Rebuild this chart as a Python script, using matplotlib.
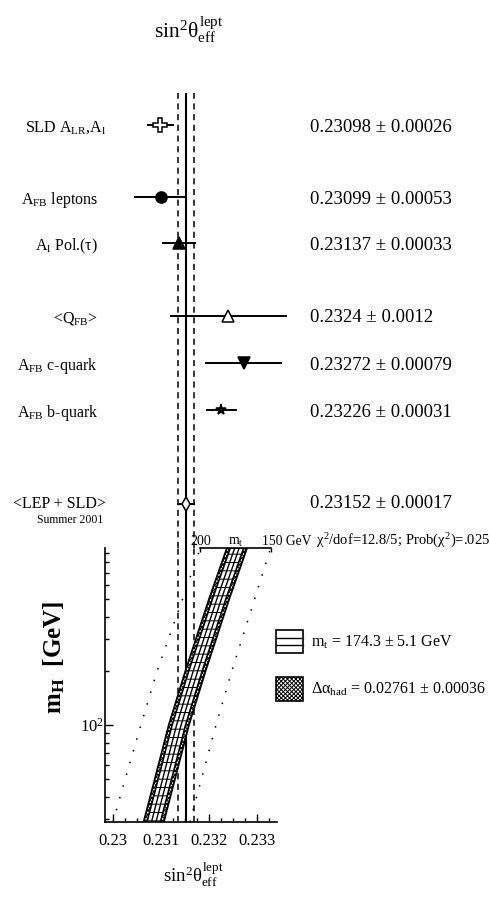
import numpy as np
import matplotlib
matplotlib.use("Agg")
import matplotlib.pyplot as plt
from matplotlib.patches import Rectangle
from matplotlib.ticker import FixedLocator, MultipleLocator, LogLocator, NullFormatter

plt.rcParams["font.family"] = ["Liberation Serif", "DejaVu Serif"]
plt.rcParams["mathtext.fontset"] = "custom"
plt.rcParams["mathtext.rm"] = "Liberation Serif"
plt.rcParams["mathtext.it"] = "Liberation Serif"
plt.rcParams["mathtext.bf"] = "Liberation Serif:bold"
plt.rcParams["hatch.linewidth"] = 0.7

# --- measurements of sin^2 theta_eff^lept ---
names = [r"SLD A$_{\rm LR}$,A$_{\rm l}$",
         r"A$_{\rm FB}$ leptons",
         r"A$_{\rm l}$ Pol.($\tau$)",
         r"<Q$_{\rm FB}$>",
         r"A$_{\rm FB}$ c-quark",
         r"A$_{\rm FB}$ b-quark",
         r"<LEP + SLD>"]
values = [0.23098, 0.23099, 0.23137, 0.2324, 0.23272, 0.23226, 0.23152]
errors = [0.00026, 0.00053, 0.00033, 0.0012, 0.00079, 0.00031, 0.00017]
value_text = ["0.23098 ± 0.00026", "0.23099 ± 0.00053", "0.23137 ± 0.00033",
              "0.2324 ± 0.0012", "0.23272 ± 0.00079", "0.23226 ± 0.00031",
              "0.23152 ± 0.00017"]
chi2_text = r"$\chi^{2}$/dof=12.8/5; Prob($\chi^{2}$)=.025"

# --- SM prediction vs m_H ---
mh_pts = [29, 50, 100, 200, 500, 962]
sin_band = [0.230848, 0.231079, 0.231371, 0.231719, 0.232210, 0.232583]
sin_mt200 = [0.230000, 0.230252, 0.230581, 0.230919, 0.231448, 0.231819]
sin_mt150 = [0.231602, 0.231840, 0.232146, 0.232475, 0.232950, 0.233283]
band_out = 0.00021   # half width incl. delta alpha_had
band_in = 0.00014    # half width from m_t

mt_text = r"m$_{\rm t}$ = 174.3 ± 5.1 GeV"
alpha_text = r"$\Delta\alpha_{\rm had}$ = 0.02761 ± 0.00036"

xticks = [0.230, 0.231, 0.232, 0.233]
xtick_labels = ["0.23", "0.231", "0.232", "0.233"]

# layout in pixels
W, H = 490, 897
def fx(px):
    return px / W
def fy(py):
    return 1 - py / H

row_y = [125, 196.5, 243, 315.5, 362.5, 410, 504]
text_dy = [7, 7, 7, 7, 7, 7, 4]
markers = ["P", "o", "^", "^", "v", "*", "d"]
mfaces = ["white", "black", "black", "white", "black", "black", "white"]
msizes = [9.5, 8, 8, 8.5, 8, 8, 7]

xlim = (0.229833, 0.233417)

fig = plt.figure(figsize=(4.9, 8.97), dpi=100)

ax = fig.add_axes([fx(105), fy(822), (277 - 105) / W, (822 - 548) / H])
axu = fig.add_axes([fx(105), fy(548), (277 - 105) / W, (548 - 93) / H])
axu.set_xlim(xlim)
axu.set_ylim(548, 93)
axu.axis("off")

avg, avg_err = values[-1], errors[-1]

# average and its error in both panels
for a in (axu, ax):
    a.axvline(avg, color="black", lw=1.5, zorder=2)
    for s in (-1, 1):
        a.axvline(avg + s * avg_err, color="black", lw=1.1, ls=(0, (4, 3)), zorder=2)

# measurements
for i in range(len(values)):
    v, e, y = values[i], errors[i], row_y[i]
    axu.plot([v - e, v + e], [y, y], color="black", lw=1.4, clip_on=False, zorder=3)
    axu.plot(v, y, marker=markers[i], ms=msizes[i], mfc=mfaces[i], mec="black",
             mew=1.1, clip_on=False, zorder=4)
    xr = 98 if 0 < i < 6 else 106
    fig.text(fx(xr), fy(y + text_dy[i]), names[i], ha="right", va="baseline", fontsize=11.5)
    fig.text(fx(310), fy(y + text_dy[i]), value_text[i], ha="left", va="baseline",
             fontsize=13.5)

fig.text(fx(103), fy(523), "Summer 2001", ha="right", va="baseline", fontsize=8.5)
fig.text(fx(316), fy(545), chi2_text, ha="left", va="baseline", fontsize=10.5)

# lower panel
ax.set_yscale("log")
ax.set_xlim(xlim)
ax.set_ylim(mh_pts[0], mh_pts[-1])

mh = np.array(mh_pts)
c = np.array(sin_band)
ax.fill_betweenx(mh, c - band_out, c + band_out, facecolor="white", edgecolor="black",
                 hatch="xxxxxxxx", lw=1.3, zorder=3)
ax.fill_betweenx(mh, c - band_in, c + band_in, facecolor="white", edgecolor="black",
                 hatch="--", lw=1.2, zorder=4)
for s in (-1, 1):
    ax.plot(c + s * band_in / 3, mh, color="black", lw=1.0, zorder=5)

ax.plot(sin_mt200, mh, color="black", lw=1.1, ls=(0, (1, 7)), zorder=2)
ax.plot(sin_mt150, mh, color="black", lw=1.1, ls=(0, (1, 7)), zorder=2)

# m_t scale along the top
ax.plot([sin_mt200[-1], sin_mt150[-1]], [mh_pts[-1], mh_pts[-1]], color="black",
        lw=1.2, clip_on=False, zorder=6)
ax.vlines([sin_mt200[-1], sin_mt150[-1]], 1 - 4 / 274, 1, color="black", lw=1.0,
          transform=ax.get_xaxis_transform(), clip_on=False)
fig.text(fx(190), fy(545), "200", ha="left", va="baseline", fontsize=10)
fig.text(fx(236), fy(545), r"m$_{\rm t}$", ha="center", va="baseline", fontsize=10)
fig.text(fx(262), fy(545), "150 GeV", ha="left", va="baseline", fontsize=9.8)

for sp in ("top", "right"):
    ax.spines[sp].set_visible(False)
for sp in ("left", "bottom"):
    ax.spines[sp].set_linewidth(1.2)

ax.xaxis.set_major_locator(FixedLocator(xticks))
ax.set_xticklabels(xtick_labels)
ax.xaxis.set_minor_locator(MultipleLocator(0.00025))
ax.yaxis.set_major_locator(LogLocator(base=10))
ax.yaxis.set_minor_locator(LogLocator(base=10, subs=np.arange(2, 10)))
ax.yaxis.set_minor_formatter(NullFormatter())
ax.tick_params(which="both", direction="in", top=False, right=False, width=1.0)
ax.tick_params(which="major", length=5.5, labelsize=12)
ax.tick_params(which="minor", length=2.8)
ax.tick_params(axis="x", which="major", pad=8)
ax.tick_params(axis="y", which="major", pad=1)

fig.text(fx(54), fy(657), r"$\mathbf{m_{H}}$  [GeV]", rotation=90, ha="center",
         va="center", fontsize=18, fontweight="bold")
fig.text(fx(193), fy(875), r"sin$^{2}\theta^{\rm lept}_{\rm eff}$", ha="center",
         va="center", fontsize=13.5)
fig.text(fx(189), fy(30), r"sin$^{2}\theta^{\rm lept}_{\rm eff}$", ha="center",
         va="center", fontsize=15.5)

# legend
box1 = Rectangle((fx(276), fy(653)), 27 / W, 23 / H, transform=fig.transFigure,
                 facecolor="white", edgecolor="black", lw=1.2)
fig.patches.append(box1)
for f in (1 / 3, 2 / 3):
    yy = fy(653) + f * 23 / H
    fig.add_artist(plt.Line2D([fx(276), fx(303)], [yy, yy], color="black", lw=1.0,
                              transform=fig.transFigure))
box2 = Rectangle((fx(276), fy(701)), 27 / W, 24 / H, transform=fig.transFigure,
                 facecolor="white", edgecolor="black", lw=1.2, hatch="xxxxxxxx")
fig.patches.append(box2)
fig.text(fx(311), fy(647), mt_text, ha="left", va="baseline", fontsize=11.5)
fig.text(fx(311), fy(694), alpha_text, ha="left", va="baseline", fontsize=11.5)

fig.savefig("out.png", dpi=100)
